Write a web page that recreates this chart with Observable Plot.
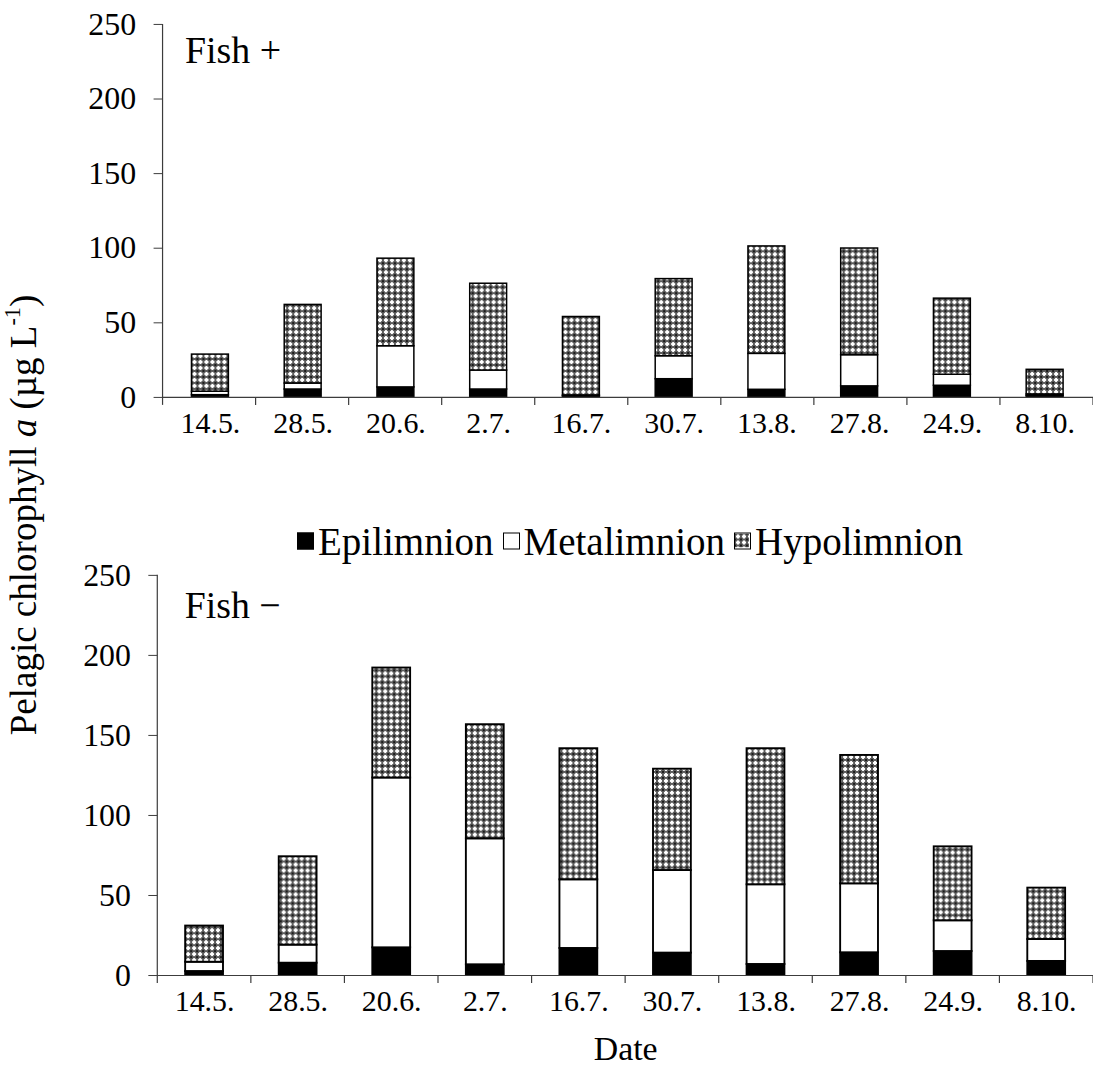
<!DOCTYPE html>
<html>
<head>
<meta charset="utf-8">
<script src="https://cdn.jsdelivr.net/npm/d3@7"></script>
<script src="https://cdn.jsdelivr.net/npm/@observablehq/plot@0.6"></script>
<style>
  html, body { margin: 0; padding: 0; background: #fff; }
  #page { position: relative; width: 1093px; height: 1075px; overflow: hidden; background: #fff;
          font-family: "Liberation Serif", "Times New Roman", serif; color: #000; }
  .panel { position: absolute; left: 0; }
  .panel svg text { font-family: "Liberation Serif", "Times New Roman", serif; }
  #ytitle { position: absolute; left: 23px; top: 515px; transform: translate(-50%, -50%) rotate(-90deg);
            white-space: nowrap; font-size: 37px; line-height: 1; }
  #ytitle sup { font-size: 0.6em; vertical-align: 0.7em; line-height: 0; }
  #legend { position: absolute; left: 297px; top: 541px; transform: translateY(-50%); display: flex; align-items: center;
            font-size: 39px; line-height: 1; white-space: nowrap; }
  #legend .item { display: flex; align-items: center; margin-right: 9px; }
  #legend .sw { width: 17px; height: 17px; border: 1.5px solid #000; margin-right: 4px; box-sizing: border-box; }
</style>
</head>
<body>
<svg width="0" height="0" style="position:absolute">
  <defs>
    <!-- dotted cross-hatch used for the hypolimnion layer -->
    <pattern id="hatch" width="6" height="6" patternUnits="userSpaceOnUse">
      <rect width="6" height="6" fill="#5c5c5c"/>
      <rect x="0" y="0" width="1" height="1" fill="#1c1c1c"/>
      <rect x="5" y="0" width="1" height="1" fill="#1c1c1c"/>
      <rect x="0" y="5" width="1" height="1" fill="#1c1c1c"/>
      <rect x="5" y="5" width="1" height="1" fill="#1c1c1c"/>
      <rect x="2" y="1" width="2" height="4" fill="#ffffff"/>
      <rect x="1" y="2" width="4" height="2" fill="#ffffff"/>
    </pattern>
  </defs>
</svg>
<div id="page">
  <div id="top" class="panel" style="top:0"></div>
  <div id="legend"></div>
  <div id="bottom" class="panel" style="top:545px"></div>
  <div id="ytitle">Pelagic chlorophyll <i>a</i> (µg L<sup>-1</sup>)</div>
</div>
<script>
// Sampling dates (day.month.)
const dates = ["14.5.", "28.5.", "20.6.", "2.7.", "16.7.", "30.7.", "13.8.", "27.8.", "24.9.", "8.10."];
const layers = ["Epilimnion", "Metalimnion", "Hypolimnion"];
const layerFills = ["#000000", "#ffffff", "url(#hatch)"];
const yTicks = [0, 50, 100, 150, 200, 250];

// Chlorophyll a per layer, with fish (Fish +)
const fishPlusEpi   = [1.5, 5.3, 6.7, 5.3, 0.7, 12.2, 5.1, 7.4, 7.8, 1.0];
const fishPlusMeta  = [2.3, 4.0, 27.6, 12.7, 0.6, 15.4, 24.1, 20.9, 7.4, 1.0];
const fishPlusHypo  = [24.9, 52.7, 58.7, 58.2, 52.6, 51.7, 72.0, 71.5, 51.0, 16.5];

// Chlorophyll a per layer, without fish (Fish −)
const fishMinusEpi  = [2.5, 7.7, 17.3, 6.7, 16.9, 14.0, 6.9, 14.2, 15.0, 8.8];
const fishMinusMeta = [5.8, 11.3, 106.1, 78.7, 42.9, 51.6, 49.8, 43.1, 19.2, 13.7];
const fishMinusHypo = [22.6, 55.2, 68.7, 71.3, 81.9, 63.3, 85.0, 80.2, 46.2, 32.1];

const axisColor = "#3c3c3c";
const plotStyle = "font-family: 'Liberation Serif', 'Times New Roman', serif; font-size: 28px; background: transparent; color: #000; overflow: visible;";

function rows(epi, meta, hypo) {
  const out = [];
  dates.forEach((d, i) => {
    out.push({date: d, layer: layers[0], value: epi[i]});
    out.push({date: d, layer: layers[1], value: meta[i]});
    out.push({date: d, layer: layers[2], value: hypo[i]});
  });
  return out;
}

// y-axis spine plus category-boundary ticks below the x axis
function axisFrame(n, tickLen) {
  return (index, scales, values, dims) => {
    const g = d3.create("svg:g").attr("stroke", axisColor).attr("stroke-width", 1.2);
    const x0 = dims.marginLeft, x1 = dims.width - dims.marginRight;
    const yb = dims.height - dims.marginBottom, yt = dims.marginTop;
    const step = (x1 - x0) / n;
    g.append("line").attr("x1", x0).attr("x2", x0).attr("y1", yt).attr("y2", yb);
    for (let i = 0; i <= n; i++) {
      const x = x0 + i * step;
      g.append("line").attr("x1", x).attr("x2", x).attr("y1", yb).attr("y2", yb + tickLen);
    }
    return g.node();
  };
}

function panel({data, width, height, marginLeft, marginTop, marginBottom, label, labelDx, labelDy, barStroke, extra = []}) {
  return Plot.plot({
    width, height, marginLeft, marginRight: 0, marginTop, marginBottom,
    style: plotStyle,
    x: {domain: dates, paddingInner: 0.6, paddingOuter: 0.3, label: null},
    y: {domain: [0, 250], label: null},
    color: {domain: layers, range: layerFills},
    marks: [
      Plot.barY(data, {x: "date", y: "value", fill: "layer", stroke: "#000", strokeWidth: barStroke}),
      Plot.ruleY([0], {stroke: axisColor, strokeWidth: 1.2}),
      axisFrame(dates.length, 8),
      Plot.axisY({ticks: yTicks, tickSize: 9, tickPadding: 18, stroke: axisColor, fill: "#000", fontSize: 32, label: null}),
      Plot.axisX({tickSize: 0, tickPadding: 14, fill: "#000", fontSize: 30, label: null}),
      Plot.text([label], {text: d => d, frameAnchor: "top-left", lineAnchor: "middle", dx: labelDx, dy: labelDy,
                          textAnchor: "start", fontSize: 38, fill: "#000"}),
      ...extra
    ]
  });
}

document.getElementById("top").append(panel({
  data: rows(fishPlusEpi, fishPlusMeta, fishPlusHypo),
  width: 1096, height: 445, marginLeft: 163, marginTop: 24, marginBottom: 47,
  label: "Fish +", labelDx: 22, labelDy: 27, barStroke: 1.5
}));

document.getElementById("bottom").append(panel({
  data: rows(fishMinusEpi, fishMinusMeta, fishMinusHypo),
  width: 1098, height: 530, marginLeft: 158, marginTop: 30, marginBottom: 98,
  label: "Fish \u2212", labelDx: 27, labelDy: 31, barStroke: 1.9,
  extra: [Plot.text(["Date"], {text: d => d, frameAnchor: "bottom", lineAnchor: "middle", dy: 74, fontSize: 34, fill: "#000"})]
}));

// Legend for the three water layers
const legend = d3.select("#legend");
layers.forEach((l, i) => {
  const item = legend.append("div").attr("class", "item");
  const sw = item.append("div").attr("class", "sw");
  if (i === 2) {
    sw.append("svg").attr("width", 14).attr("height", 14).style("display", "block")
      .append("rect").attr("width", 14).attr("height", 14).attr("fill", layerFills[i]);
  } else {
    sw.style("background", layerFills[i]);
  }
  item.append("span").text(l);
});
</script>
</body>
</html>
